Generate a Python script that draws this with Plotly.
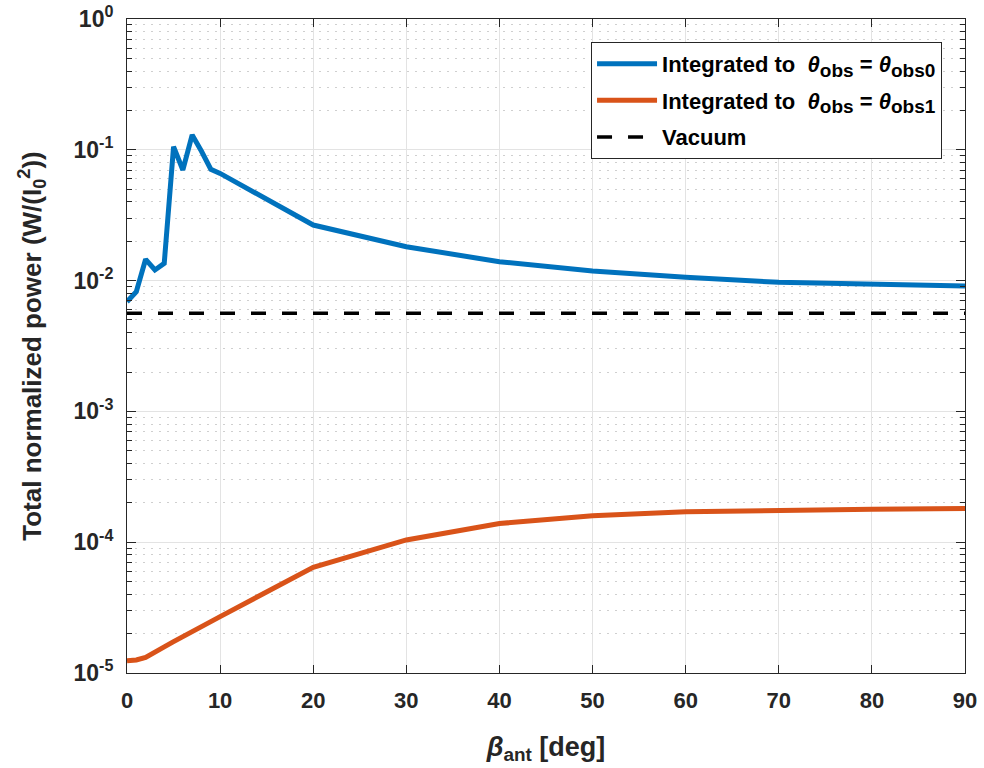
import plotly.graph_objects as go

# ---- data ----
beta_blue = [0, 1, 2, 3, 4, 5, 6, 7, 8, 9, 10, 20, 30, 40, 50, 60, 70, 80, 90]
power_obs0 = [0.0069, 0.00822, 0.01455, 0.01205, 0.01356, 0.1056, 0.0701, 0.1298,
              0.0975, 0.0710, 0.0660, 0.0266, 0.01816, 0.01394, 0.01184, 0.01059,
              0.00970, 0.00930, 0.00909]

beta_orange = [0, 1, 2, 3, 4, 5, 6, 7, 8, 9, 10, 20, 30, 40, 50, 60, 70, 80, 90]
power_obs1 = [1.242e-5, 1.259e-5, 1.318e-5, 1.429e-5, 1.585e-5, 1.738e-5, 1.905e-5,
              2.089e-5, 2.291e-5, 2.483e-5, 2.698e-5, 6.43e-5, 1.04e-4, 1.39e-4,
              1.59e-4, 1.71e-4, 1.76e-4, 1.79e-4, 1.81e-4]

beta_vac = [0, 90]
power_vac = [0.00562, 0.00562]

x_ticks = [0, 10, 20, 30, 40, 50, 60, 70, 80, 90]
y_exponents = [-5, -4, -3, -2, -1, 0]

# ---- styling ----
BLUE = "#0072BD"
ORANGE = "#D95319"
AX = "#262626"
FONT = "Liberation Sans, Arial, sans-serif"

y_tickvals = [10.0 ** e for e in y_exponents]
y_ticktext = ["10<sup>%d</sup>" % e for e in y_exponents]
minor_vals = [m * 10.0 ** e for e in y_exponents[:-1] for m in range(2, 10)]


def sub(t):
    return '<sub><span style="font-size:19px">%s</span></sub>' % t


fig = go.Figure()
fig.add_trace(go.Scatter(
    x=beta_blue, y=power_obs0, mode="lines", legendgroup="a",
    line=dict(color=BLUE, width=5),
    name="Integrated to  <i>θ</i>" + sub("obs") + " = <i>θ</i>" + sub("obs0")))
fig.add_trace(go.Scatter(
    x=beta_orange, y=power_obs1, mode="lines", legendgroup="b",
    line=dict(color=ORANGE, width=5),
    name="Integrated to  <i>θ</i>" + sub("obs") + " = <i>θ</i>" + sub("obs1")))
fig.add_trace(go.Scatter(
    x=beta_vac, y=power_vac, mode="lines", legendgroup="c",
    line=dict(color="black", width=3.5, dash="15px,16px"),
    name="Vacuum"))

fig.update_layout(
    width=984, height=768,
    margin=dict(l=127, r=19, t=19, b=95),
    paper_bgcolor="white", plot_bgcolor="white",
    font=dict(family=FONT, size=20, color=AX, weight="bold"),
    showlegend=True,
    legend=dict(
        x=0.9726, y=0.965, xanchor="right", yanchor="top",
        bgcolor="white", bordercolor=AX, borderwidth=1,
        font=dict(family=FONT, size=22, color="black", weight="bold"),
        tracegroupgap=5, itemwidth=60,
    ),
)

fig.update_xaxes(
    range=[0, 90], tickmode="array", tickvals=x_ticks,
    showline=True, linecolor=AX, linewidth=1, mirror="ticks",
    ticks="inside", ticklen=8, tickcolor=AX,
    showgrid=True, gridcolor="#E3E3E3", gridwidth=1,
    zeroline=False, automargin=False,
    ticklabelstandoff=8,
    tickfont=dict(family=FONT, size=22, color=AX, weight="bold"),
    title=dict(text="<i>β</i><sub>ant</sub> [deg]",
               font=dict(family=FONT, size=27, color=AX, weight="bold"), standoff=24),
)

fig.update_yaxes(
    type="log", range=[-5, 0],
    tickmode="array", tickvals=y_tickvals, ticktext=y_ticktext,
    showline=True, linecolor=AX, linewidth=1, mirror="allticks",
    ticks="inside", ticklen=9, tickcolor=AX,
    showgrid=True, gridcolor="#E3E3E3", gridwidth=1,
    zeroline=False, automargin=False,
    ticklabelstandoff=8, ticklabeloverflow="allow",
    tickfont=dict(family=FONT, size=23, color=AX, weight="bold"),
    minor=dict(tickmode="array", tickvals=minor_vals, ticks="inside", ticklen=5,
               tickcolor=AX, showgrid=True, gridcolor="#CFCFCF", griddash="2px,6px",
               gridwidth=1),
    title=dict(text="Total normalized power (W/(I<sub>0</sub><sup>2</sup>))",
               font=dict(family=FONT, size=26, color=AX, weight="bold"), standoff=24),
)

fig.write_html("out.html",
               config={"displayModeBar": False},
               post_script="document.body.style.margin='0px';")
